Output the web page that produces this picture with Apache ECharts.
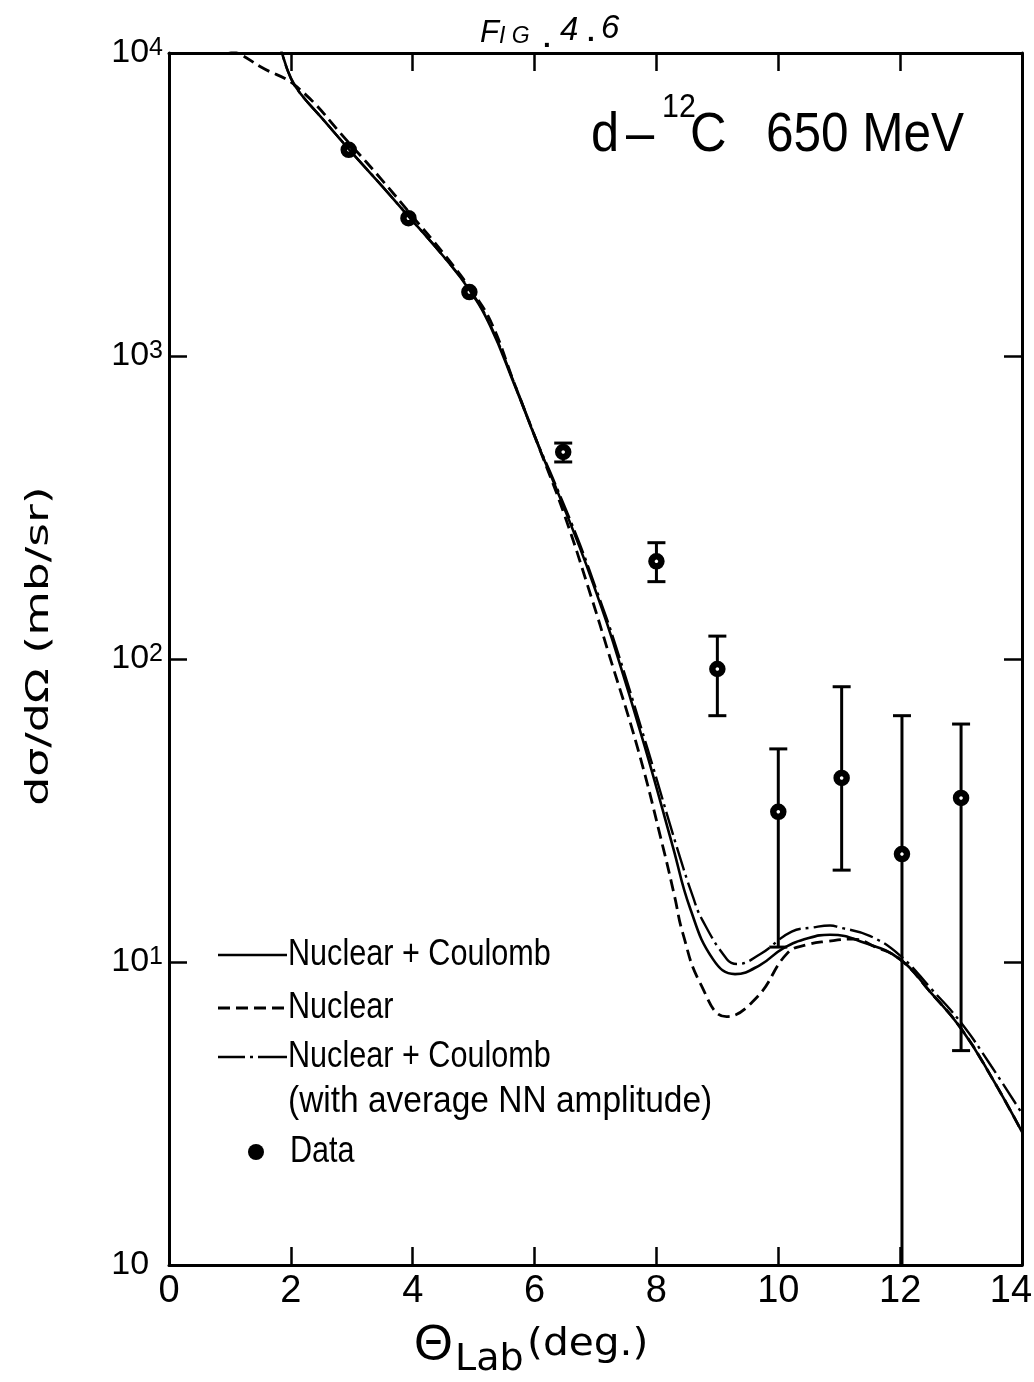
<!DOCTYPE html>
<html><head><meta charset="utf-8">
<script src="https://cdn.jsdelivr.net/npm/echarts@6/dist/echarts.min.js"></script>
<style>html,body{margin:0;padding:0;background:#fff}#c{width:1034px;height:1382px}</style>
</head><body><div id="c"></div>
<script>
const FONT = '"Liberation Sans", Arial, sans-serif';
const WIDE = '"DejaVu Sans", sans-serif';

// tick labels
const xTickLabels = ['0', '2', '4', '6', '8', '10', '12', '14'];
const yTickBase = ['10', '10', '10', '10', '10'];
const yTickExp = ['', '1', '2', '3', '4'];

// Nuclear + Coulomb (solid)
const ncTheta = [1.756, 1.855, 2.00, 2.15, 2.51, 2.95, 3.50, 3.94, 4.50, 4.94, 5.27, 5.66, 6.07, 6.30, 6.74, 7.02, 7.29, 7.81, 8.27, 8.55, 8.93, 9.29, 9.70, 10.08, 10.50, 10.85, 11.40, 12.00, 12.50, 13.00, 13.50, 14.0];
const ncValue = [12000, 10000, 8260, 7380, 6095, 4820, 3631, 2877, 2138, 1641, 1259, 813, 501, 389, 234, 164, 113.5, 51.3, 24.0, 15.1, 10.2, 9.12, 9.77, 11.1, 12.0, 12.3, 11.6, 10.2, 7.94, 6.03, 4.17, 2.75];

// Nuclear (dashed)
const nTheta = [0.95, 1.17, 1.51, 2.10, 2.97, 3.50, 4.00, 4.50, 4.99, 5.30, 5.66, 6.07, 6.50, 6.94, 7.20, 7.70, 8.12, 8.30, 8.43, 8.72, 9.15, 9.65, 10.15, 10.47, 10.80, 11.23, 11.60, 12.00, 12.50, 13.00, 13.50, 14.0];
const nValue = [10300, 9900, 8990, 7730, 5010, 3800, 2884, 2188, 1620, 1275, 820, 501, 295, 158, 107, 50.1, 23.4, 16.4, 12.5, 8.5, 6.6, 7.65, 10.7, 11.4, 11.7, 11.9, 11.2, 10.2, 7.94, 6.03, 4.17, 2.75];

// Nuclear + Coulomb with average NN amplitude (dash-dot)
const naTheta = [1.756, 1.855, 2.00, 2.15, 2.51, 2.95, 3.50, 3.94, 4.50, 4.94, 5.27, 5.66, 6.07, 6.30, 6.74, 7.02, 7.29, 7.86, 8.35, 8.60, 8.75, 9.16, 9.32, 9.70, 10.22, 10.57, 10.85, 11.01, 11.50, 12.00, 12.50, 13.00, 13.50, 14.0];
const naValue = [12000, 10000, 8260, 7380, 6095, 4820, 3631, 2877, 2138, 1650, 1270, 820, 505, 395, 240, 168, 117.5, 50.1, 23.4, 16.4, 13.8, 10.2, 9.85, 10.6, 12.6, 13.0, 13.2, 13.0, 12.2, 10.5, 8.2, 6.3, 4.52, 3.16];

// Data
const dataTheta = [2.95, 3.93, 4.93, 6.47, 8.0, 9.0, 10.0, 11.04, 12.03, 13.0];
const dataValue = [4790, 2850, 1625, 482, 210, 92.7, 31.3, 40.5, 22.7, 34.8];
const errLow  = [null, null, null, 447, 180, 65, 11.2, 20.1, 1, 5.1];
const errHigh = [null, null, null, 516, 242, 119, 50.5, 81, 65, 61];

const Y_MIN = 1, Y_MAX = 10000;

const chart = echarts.init(document.getElementById('c'), null, {renderer: 'canvas'});

const pairs = (a, b) => a.map((t, i) => [t, b[i]]);
const errData = [];
dataTheta.forEach((t, i) => { if (errLow[i] != null) errData.push([t, errLow[i], errHigh[i]]); });

const axisCommon = {
  axisLine: {show: true, onZero: false, lineStyle: {color: '#000', width: 3}},
  axisTick: {show: true, inside: true, length: 18, lineStyle: {color: '#000', width: 2.5}},
  splitLine: {show: false},
  minorTick: {show: false}
};

const T = (x, y, text, size, extra, styleExtra) => Object.assign({
  type: 'text', x: x, y: y,
  style: Object.assign({text: text, fontFamily: FONT, fontSize: size, fill: '#000', verticalAlign: 'middle'}, styleExtra || {})
}, extra || {});

const option = {
  backgroundColor: '#fff',
  animation: false,
  grid: {left: 169, right: 12, top: 53, bottom: 117, containLabel: false, outerBoundsMode: 'none'},
  xAxis: [
    Object.assign({
      type: 'value', min: 0, max: 14, interval: 2, position: 'bottom',
      axisLabel: {
        show: true, color: '#000', fontFamily: FONT, fontSize: 38, margin: 8,
        showMinLabel: true, showMaxLabel: true,
        formatter: v => {
          const s = xTickLabels[Math.round(v / 2)];
          return v === 14 ? '{m|' + s + '}' : s;
        },
        rich: {m: {fontSize: 38, fontFamily: FONT, color: '#000', padding: [0, 22, 0, 0]}}
      }
    }, axisCommon),
    Object.assign({
      type: 'value', min: 0, max: 14, interval: 2, position: 'top',
      axisLabel: {show: false}
    }, axisCommon)
  ],
  yAxis: [
    Object.assign({
      type: 'log', logBase: 10, min: Y_MIN, max: Y_MAX, position: 'left',
      axisLabel: {
        show: true, color: '#000', fontFamily: FONT, margin: 6,
        showMinLabel: true, showMaxLabel: true,
        formatter: v => {
          const k = Math.round(Math.log10(v));
          return '{b|' + yTickBase[k] + '}' + (yTickExp[k] ? '{s|' + yTickExp[k] + '}' : '{h|0}');
        },
        rich: {
          b: {fontSize: 34, fontFamily: FONT, color: '#000', lineHeight: 34},
          s: {fontSize: 25, fontFamily: FONT, color: '#000', lineHeight: 18, verticalAlign: 'top'},
          h: {fontSize: 25, fontFamily: FONT, color: 'rgba(0,0,0,0)', lineHeight: 18, verticalAlign: 'top'}
        }
      }
    }, axisCommon),
    Object.assign({
      type: 'log', logBase: 10, min: Y_MIN, max: Y_MAX, position: 'right',
      axisLabel: {show: false}
    }, axisCommon)
  ],
  series: [
    {
      name: 'Nuclear + Coulomb', type: 'line', xAxisIndex: 0, yAxisIndex: 0,
      data: pairs(ncTheta, ncValue), showSymbol: false, smooth: 0.45, clip: true,
      lineStyle: {color: '#000', width: 2.6}
    },
    {
      name: 'Nuclear', type: 'line', xAxisIndex: 0, yAxisIndex: 0,
      data: pairs(nTheta, nValue), showSymbol: false, smooth: 0.45, clip: true,
      lineStyle: {color: '#000', width: 2.8, type: [12, 6]}
    },
    {
      name: 'Nuclear + Coulomb (avg NN)', type: 'line', xAxisIndex: 0, yAxisIndex: 0,
      data: pairs(naTheta, naValue), showSymbol: false, smooth: 0.45, clip: true,
      lineStyle: {color: '#000', width: 2.4, type: [24, 5, 3, 5]}
    },
    {
      name: 'errors', type: 'custom', xAxisIndex: 0, yAxisIndex: 0, clip: true,
      data: errData,
      encode: {x: 0, y: [1, 2]},
      renderItem: (params, api) => {
        const x = api.value(0), lo = api.value(1), hi = api.value(2);
        const pHi = api.coord([x, hi]);
        const pLo = api.coord([x, Math.max(lo, Y_MIN)]);
        const st = {stroke: '#000', lineWidth: 3};
        const ch = [
          {type: 'line', shape: {x1: pHi[0], y1: pHi[1], x2: pLo[0], y2: pLo[1]}, style: st},
          {type: 'line', shape: {x1: pHi[0] - 9, y1: pHi[1], x2: pHi[0] + 9, y2: pHi[1]}, style: st}
        ];
        if (lo > Y_MIN) ch.push({type: 'line', shape: {x1: pLo[0] - 9, y1: pLo[1], x2: pLo[0] + 9, y2: pLo[1]}, style: st});
        return {type: 'group', children: ch};
      }
    },
    {
      name: 'Data', type: 'scatter', xAxisIndex: 0, yAxisIndex: 0,
      data: pairs(dataTheta, dataValue), symbol: 'circle', symbolSize: 10,
      itemStyle: {color: '#fff', borderColor: '#000', borderWidth: 6.5, opacity: 1}
    }
  ],
  graphic: [
    // figure label (hand lettered)
    T(480, 33, 'F', 31, null, {fontStyle: 'italic'}),
    T(499, 37, 'I G', 23, null, {fontStyle: 'italic'}),
    T(543, 39, '.', 28, null, {fontWeight: 'bold'}),
    T(560, 31, '4', 33, null, {fontStyle: 'italic'}),
    T(587, 33, '.', 28, null, {fontWeight: 'bold'}),
    T(601, 29, '6', 33, null, {fontStyle: 'italic'}),
    // reaction title
    T(591, 163, 'd', 55, {scaleX: 0.92}, {verticalAlign: 'bottom'}),
    T(626, 163, '–', 55, {scaleX: 0.92}, {verticalAlign: 'bottom'}),
    T(662, 124, '12', 33, {scaleX: 0.92}, {verticalAlign: 'bottom'}),
    T(690, 163, 'C', 55, {scaleX: 0.92}, {verticalAlign: 'bottom'}),
    T(766, 163, '650 MeV', 55, {scaleX: 0.9}, {verticalAlign: 'bottom'}),
    // y axis title
    T(40, 646, 'dσ/dΩ (mb/sr)', 32, {rotation: Math.PI / 2, scaleX: 1.43}, {fontFamily: WIDE, align: 'center'}),
    // x axis title
    T(414, 1371, 'Θ', 50, null, {verticalAlign: 'bottom'}),
    T(455, 1379, 'Lab', 38, null, {fontFamily: WIDE, verticalAlign: 'bottom'}),
    T(527, 1345, '(deg.)', 37, {scaleX: 1.1}, {fontFamily: WIDE}),
    // legend
    {type: 'line', shape: {x1: 218, y1: 955, x2: 287, y2: 955}, style: {stroke: '#000', lineWidth: 2.6}},
    T(288, 955, 'Nuclear + Coulomb', 36, {scaleX: 0.85}),
    {type: 'line', shape: {x1: 218, y1: 1008, x2: 286, y2: 1008}, style: {stroke: '#000', lineWidth: 2.8, lineDash: [12, 6]}},
    T(288, 1008, 'Nuclear', 36, {scaleX: 0.85}),
    {type: 'line', shape: {x1: 218, y1: 1057, x2: 287, y2: 1057}, style: {stroke: '#000', lineWidth: 2.6, lineDash: [27, 5, 3, 5, 40]}},
    T(288, 1057, 'Nuclear + Coulomb', 36, {scaleX: 0.85}),
    T(288, 1102, '(with average NN amplitude)', 36, {scaleX: 0.93}),
    {type: 'circle', shape: {cx: 256, cy: 1152, r: 8}, style: {fill: '#000'}},
    T(290, 1152, 'Data', 36, {scaleX: 0.85})
  ]
};
chart.setOption(option);
</script></body></html>
